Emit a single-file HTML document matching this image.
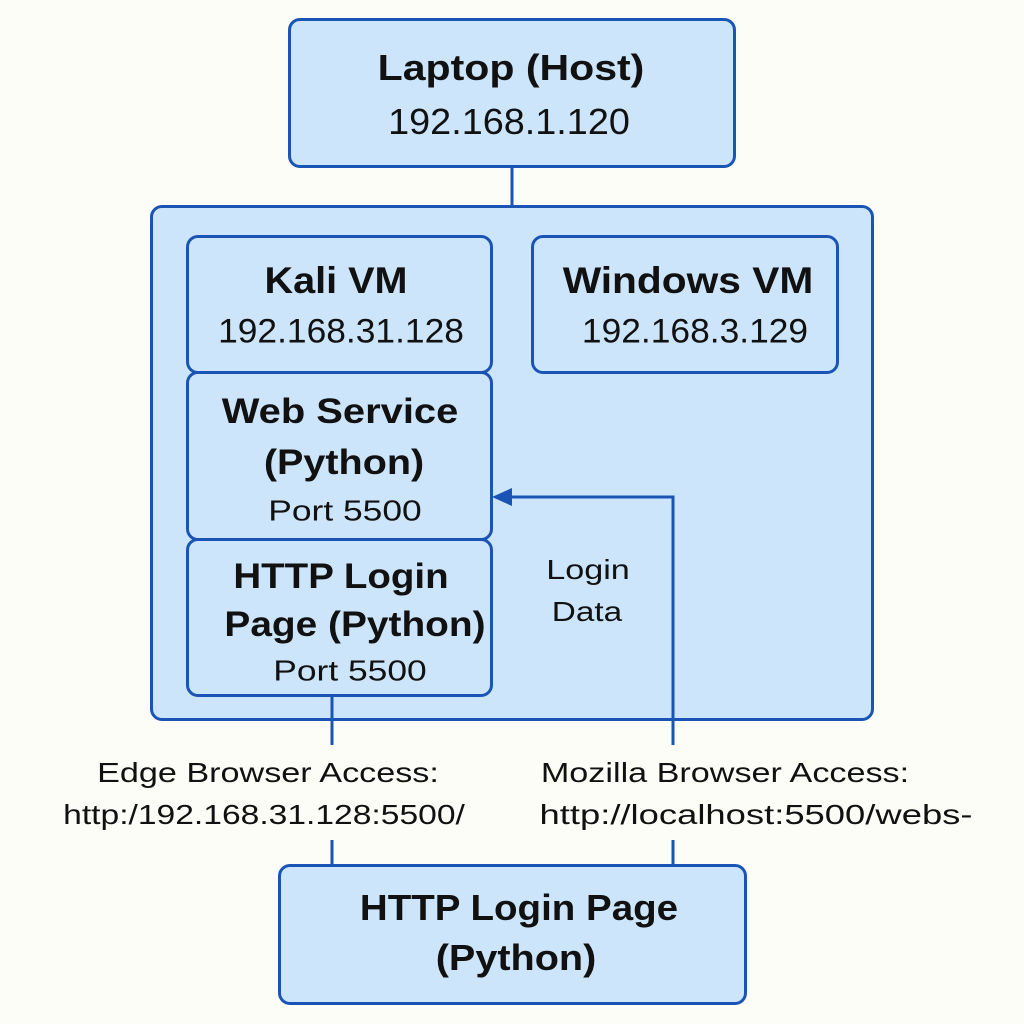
<!DOCTYPE html>
<html><head><meta charset="utf-8"><style>
html,body{margin:0;padding:0;background:#fdfdf8;}
body{width:1024px;height:1024px;position:relative;overflow:hidden;font-family:"Liberation Sans","DejaVu Sans",sans-serif;color:#111;}
.b{position:absolute;box-sizing:border-box;background:#cce5fb;border:3px solid #1a55b5;border-radius:12px;}
.t{position:absolute;white-space:nowrap;}
.bold{font-weight:bold;}
</style></head><body>
<div class="b" style="left:288px;top:18px;width:448px;height:150px;"></div>
<div class="b" style="left:150px;top:205px;width:724px;height:516px;"></div>
<div class="b" style="left:186px;top:235px;width:307px;height:139px;"></div>
<div class="b" style="left:186px;top:371px;width:307px;height:170px;"></div>
<div class="b" style="left:186px;top:538px;width:307px;height:159px;"></div>
<div class="b" style="left:531px;top:235px;width:308px;height:139px;"></div>
<div class="b" style="left:278px;top:864px;width:469px;height:141px;"></div>
<svg width="1024" height="1024" style="position:absolute;left:0;top:0">
<line x1="512" y1="168" x2="512" y2="205" stroke="#1a55b5" stroke-width="3"/>
<line x1="332" y1="697" x2="332" y2="745" stroke="#1a55b5" stroke-width="3"/>
<line x1="332" y1="840" x2="332" y2="864" stroke="#1a55b5" stroke-width="3"/>
<polyline points="673,745 673,497 505,497" fill="none" stroke="#1a55b5" stroke-width="3"/>
<line x1="673" y1="840" x2="673" y2="864" stroke="#1a55b5" stroke-width="3"/>
<polygon points="492,497 512,488 512,506" fill="#1a55b5"/>
</svg>
<div class="t bold" style="left:511px;top:68px;font-size:36px;transform:translate(-50%,-50%) scaleX(1.14)">Laptop (Host)</div>
<div class="t" style="left:509px;top:122px;font-size:36px;transform:translate(-50%,-50%) scaleX(1.05)">192.168.1.120</div>
<div class="t bold" style="left:336px;top:281px;font-size:37px;transform:translate(-50%,-50%) scaleX(1.07)">Kali VM</div>
<div class="t" style="left:341px;top:332px;font-size:34px;transform:translate(-50%,-50%) scaleX(1.04)">192.168.31.128</div>
<div class="t bold" style="left:688px;top:281px;font-size:37px;transform:translate(-50%,-50%) scaleX(1.10)">Windows VM</div>
<div class="t" style="left:695px;top:332px;font-size:34px;transform:translate(-50%,-50%) scaleX(1.04)">192.168.3.129</div>
<div class="t bold" style="left:340px;top:412px;font-size:35px;transform:translate(-50%,-50%) scaleX(1.14)">Web Service</div>
<div class="t bold" style="left:344px;top:463px;font-size:35px;transform:translate(-50%,-50%) scaleX(1.13)">(Python)</div>
<div class="t" style="left:345px;top:512px;font-size:29px;transform:translate(-50%,-50%) scaleX(1.22)">Port 5500</div>
<div class="t bold" style="left:341px;top:577px;font-size:35px;transform:translate(-50%,-50%) scaleX(1.10)">HTTP Login</div>
<div class="t bold" style="left:355px;top:625px;font-size:35px;transform:translate(-50%,-50%) scaleX(1.11)">Page (Python)</div>
<div class="t" style="left:350px;top:672px;font-size:29px;transform:translate(-50%,-50%) scaleX(1.22)">Port 5500</div>
<div class="t" style="left:588px;top:570px;font-size:28px;transform:translate(-50%,-50%) scaleX(1.22)">Login</div>
<div class="t" style="left:587px;top:612px;font-size:28px;transform:translate(-50%,-50%) scaleX(1.19)">Data</div>
<div class="t" style="left:268px;top:773px;font-size:28px;transform:translate(-50%,-50%) scaleX(1.22)">Edge Browser Access:</div>
<div class="t" style="left:264px;top:815px;font-size:28px;transform:translate(-50%,-50%) scaleX(1.20)">http:/192.168.31.128:5500/</div>
<div class="t" style="left:725px;top:773px;font-size:28px;transform:translate(-50%,-50%) scaleX(1.22)">Mozilla Browser Access:</div>
<div class="t" style="left:756px;top:815px;font-size:28px;transform:translate(-50%,-50%) scaleX(1.30)">http://localhost:5500/webs-</div>
<div class="t bold" style="left:519px;top:908px;font-size:36px;transform:translate(-50%,-50%) scaleX(1.07)">HTTP Login Page</div>
<div class="t bold" style="left:516px;top:958px;font-size:36px;transform:translate(-50%,-50%) scaleX(1.10)">(Python)</div>
</body></html>
